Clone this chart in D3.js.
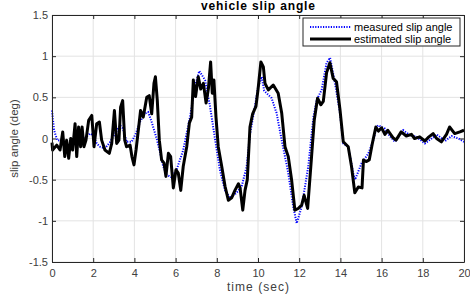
<!DOCTYPE html>
<html>
<head>
<meta charset="utf-8">
<script src="https://cdn.jsdelivr.net/npm/d3@7"></script>
<style>
  body { margin: 0; background: #fff; }
  svg { display: block; font-family: Arial, 'Liberation Sans', sans-serif; }
</style>
</head>
<body>
<div id="chart"></div>
<script>
// measured slip angle (blue dotted)
const measuredTime = [0, 0.1, 0.25, 0.5, 0.87, 1.2, 1.52, 1.84, 2.0, 2.17, 2.33, 2.57, 2.8, 3.06, 3.3, 3.45, 3.62, 3.87, 4.07, 4.27, 4.5, 4.67, 4.84, 5.08, 5.2, 5.4, 5.57, 5.8, 6.05, 6.37, 6.7, 6.94, 7.15, 7.43, 7.67, 7.91, 8.15, 8.4, 8.64, 8.96, 9.21, 9.45, 9.61, 9.85, 10.0, 10.18, 10.3, 10.66, 10.9, 11.15, 11.47, 11.71, 11.88, 12.12, 12.44, 12.69, 12.85, 13.09, 13.33, 13.5, 13.74, 13.98, 14.14, 14.38, 14.62, 14.71, 15.03, 15.36, 15.6, 15.76, 15.84, 16.16, 16.4, 16.65, 17.05, 17.38, 17.7, 18.1, 18.43, 18.67, 19.08, 19.4, 19.73, 20];
const measuredSlip = [0.34, 0.1, -0.02, -0.03, -0.1, -0.05, -0.01, 0.06, 0.04, -0.06, -0.1, -0.12, -0.05, 0.06, 0.16, 0.12, -0.04, -0.04, 0.06, 0.2, 0.3, 0.32, 0.2, 0.0, -0.12, -0.34, -0.44, -0.47, -0.38, -0.14, 0.26, 0.63, 0.82, 0.71, 0.39, 0.0, -0.38, -0.63, -0.72, -0.66, -0.58, -0.34, 0.05, 0.39, 0.62, 0.75, 0.58, 0.49, 0.31, -0.02, -0.42, -0.83, -1.03, -0.83, -0.34, 0.26, 0.47, 0.59, 0.92, 0.98, 0.67, 0.31, -0.06, -0.1, -0.42, -0.5, -0.3, -0.18, -0.02, 0.14, 0.16, 0.12, 0.03, -0.04, 0.1, 0.04, 0.02, -0.06, 0.0, 0.05, -0.03, 0.03, 0.0, -0.04];

// estimated slip angle (black solid)
const estimatedTime = [0, 0.03, 0.23, 0.39, 0.52, 0.62, 0.71, 0.81, 0.91, 1.0, 1.12, 1.2, 1.29, 1.39, 1.46, 1.55, 1.65, 1.78, 1.93, 2.04, 2.17, 2.3, 2.41, 2.57, 2.78, 2.9, 3.03, 3.14, 3.25, 3.33, 3.43, 3.53, 3.62, 3.79, 3.88, 3.98, 4.08, 4.19, 4.3, 4.43, 4.6, 4.72, 4.84, 4.95, 5.02, 5.11, 5.21, 5.32, 5.44, 5.53, 5.65, 5.76, 5.89, 6.02, 6.13, 6.25, 6.37, 6.54, 6.67, 6.78, 6.86, 6.97, 7.1, 7.22, 7.35, 7.48, 7.59, 7.7, 7.78, 7.86, 7.96, 8.07, 8.24, 8.4, 8.56, 8.72, 8.88, 9.05, 9.13, 9.26, 9.37, 9.48, 9.61, 9.74, 9.9, 10.0, 10.14, 10.26, 10.34, 10.5, 10.74, 10.98, 11.15, 11.31, 11.47, 11.63, 11.79, 11.95, 12.12, 12.24, 12.41, 12.6, 12.73, 12.89, 13.05, 13.17, 13.33, 13.49, 13.65, 13.81, 13.98, 14.14, 14.38, 14.54, 14.7, 14.87, 15.05, 15.12, 15.25, 15.4, 15.55, 15.72, 15.84, 16.0, 16.16, 16.3, 16.55, 16.7, 16.95, 17.2, 17.45, 17.6, 17.85, 18.1, 18.25, 18.5, 18.67, 18.9, 19.15, 19.3, 19.55, 19.8, 20];
const estimatedSlip = [-0.05, -0.14, -0.08, -0.14, 0.08, -0.22, -0.02, -0.24, 0.0, -0.14, 0.18, -0.22, 0.14, -0.1, 0.14, -0.1, -0.02, 0.22, 0.28, -0.1, 0.18, 0.2, -0.02, -0.14, -0.18, -0.06, 0.34, -0.06, -0.02, 0.38, 0.46, -0.02, -0.1, -0.08, -0.22, -0.32, -0.14, 0.1, 0.34, 0.26, 0.5, 0.52, 0.3, 0.67, 0.75, 0.47, -0.02, -0.26, -0.3, -0.46, -0.18, -0.22, -0.6, -0.38, -0.42, -0.63, -0.34, -0.1, 0.19, 0.26, 0.71, 0.51, 0.75, 0.6, 0.67, 0.43, 0.6, 0.93, 0.55, 0.71, 0.26, -0.1, -0.34, -0.58, -0.75, -0.72, -0.63, -0.55, -0.6, -0.87, -0.63, -0.5, 0.14, 0.3, 0.39, 0.59, 0.93, 0.87, 0.67, 0.59, 0.65, 0.55, 0.31, -0.1, -0.22, -0.5, -0.87, -0.85, -0.81, -0.69, -0.85, -0.22, 0.22, 0.49, 0.41, 0.45, 0.8, 0.92, 0.73, 0.69, 0.35, -0.04, -0.1, -0.34, -0.66, -0.59, -0.6, -0.26, -0.28, -0.26, -0.06, 0.14, 0.09, 0.13, 0.05, 0.1, 0.01, -0.02, 0.08, 0.03, 0.05, 0.0, 0.02, -0.03, 0.01, 0.06, 0.0, -0.04, 0.05, 0.14, 0.06, 0.08, 0.1];

const xTicks = [0, 2, 4, 6, 8, 10, 12, 14, 16, 18, 20];
const yTicks = [-1.5, -1, -0.5, 0, 0.5, 1, 1.5];
const legendLabels = ['measured slip angle', 'estimated slip angle'];

const width = 470, height = 300;
const margin = {top: 15, right: 6, bottom: 38, left: 52};
const axisColor = '#262626';

const svg = d3.select('#chart').append('svg')
    .attr('width', width)
    .attr('height', height);

const x = d3.scaleLinear().domain([0, 20]).range([margin.left, width - margin.right]);
const y = d3.scaleLinear().domain([-1.5, 1.5]).range([height - margin.bottom, margin.top]);

// grid
svg.append('g').selectAll('line').data(xTicks).enter().append('line')
    .attr('x1', d => x(d)).attr('x2', d => x(d))
    .attr('y1', y(-1.5)).attr('y2', y(1.5))
    .attr('stroke', '#e3e3e3').attr('stroke-width', 1);
svg.append('g').selectAll('line').data(yTicks).enter().append('line')
    .attr('x1', x(0)).attr('x2', x(20))
    .attr('y1', d => y(d)).attr('y2', d => y(d))
    .attr('stroke', '#e3e3e3').attr('stroke-width', 1);

// data lines
const lineOf = (ts, vs) => d3.line()
    .x((d, i) => x(ts[i]))
    .y(d => y(d))(vs);

svg.append('path')
    .attr('d', lineOf(measuredTime, measuredSlip))
    .attr('fill', 'none')
    .attr('stroke', '#0000ff')
    .attr('stroke-width', 2)
    .attr('stroke-dasharray', '1.2,1.4');

svg.append('path')
    .attr('d', lineOf(estimatedTime, estimatedSlip))
    .attr('fill', 'none')
    .attr('stroke', '#000')
    .attr('stroke-width', 3)
    .attr('stroke-linejoin', 'round');

// axes (box with ticks on all four sides, ticks inward)
const fmt = d => String(d);
const styleAxis = g => {
    g.select('.domain').attr('stroke', axisColor);
    g.selectAll('.tick line').attr('stroke', axisColor);
    g.selectAll('.tick text').attr('fill', '#404040').attr('font-size', 11)
        .attr('font-family', "Arial, 'Liberation Sans', sans-serif");
};

svg.append('g')
    .attr('transform', `translate(0,${y(-1.5)})`)
    .call(d3.axisBottom(x).tickValues(xTicks).tickFormat(fmt).tickSizeInner(-4).tickSizeOuter(0).tickPadding(7))
    .call(styleAxis);
svg.append('g')
    .attr('transform', `translate(0,${y(1.5)})`)
    .call(d3.axisTop(x).tickValues(xTicks).tickFormat('').tickSizeInner(-4).tickSizeOuter(0))
    .call(styleAxis);
svg.append('g')
    .attr('transform', `translate(${x(0)},0)`)
    .call(d3.axisLeft(y).tickValues(yTicks).tickFormat(fmt).tickSizeInner(-4).tickSizeOuter(0).tickPadding(4))
    .call(styleAxis);
svg.append('g')
    .attr('transform', `translate(${x(20)},0)`)
    .call(d3.axisRight(y).tickValues(yTicks).tickFormat('').tickSizeInner(-4).tickSizeOuter(0))
    .call(styleAxis);

// title and axis labels
svg.append('text')
    .attr('x', (x(0) + x(20)) / 2)
    .attr('y', 10)
    .attr('text-anchor', 'middle')
    .attr('font-size', 12)
    .attr('font-weight', 'bold')
    .attr('fill', '#000')
    .attr('textLength', 114)
    .attr('lengthAdjust', 'spacing')
    .text('vehicle slip angle');

svg.append('text')
    .attr('x', (x(0) + x(20)) / 2)
    .attr('y', 291)
    .attr('text-anchor', 'middle')
    .attr('font-size', 12)
    .attr('fill', '#404040')
    .attr('textLength', 62)
    .attr('lengthAdjust', 'spacing')
    .text('time (sec)');

svg.append('text')
    .attr('transform', `translate(18,${y(0)}) rotate(-90)`)
    .attr('text-anchor', 'middle')
    .attr('font-size', 11.5)
    .attr('fill', '#404040')
    .text('slip angle (deg)');

// legend
const legend = svg.append('g').attr('transform', 'translate(303,18)');
legend.append('rect')
    .attr('width', 157).attr('height', 28)
    .attr('fill', '#fff').attr('stroke', axisColor).attr('stroke-width', 1);
const legendStyles = [
    {stroke: '#0000ff', width: 2, dash: '1.2,1.4'},
    {stroke: '#000', width: 3, dash: null}
];
legendLabels.forEach((label, i) => {
    const yy = 9 + i * 12;
    legend.append('line')
        .attr('x1', 7).attr('x2', 48)
        .attr('y1', yy).attr('y2', yy)
        .attr('stroke', legendStyles[i].stroke)
        .attr('stroke-width', legendStyles[i].width)
        .attr('stroke-dasharray', legendStyles[i].dash);
    legend.append('text')
        .attr('x', 51).attr('y', yy + 4)
        .attr('font-size', 11)
        .attr('fill', '#000')
        .text(label);
});
</script>
</body>
</html>
